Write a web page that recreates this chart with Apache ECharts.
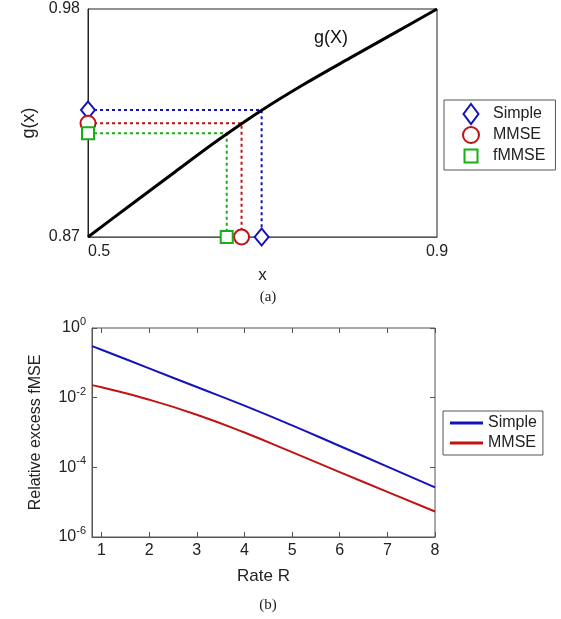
<!DOCTYPE html>
<html>
<head>
<meta charset="utf-8">
<script src="https://cdn.jsdelivr.net/npm/echarts@6/dist/echarts.min.js"></script>
<style>
  html, body { margin: 0; padding: 0; background: #fff; }
  #chart { width: 561px; height: 619px; }
</style>
</head>
<body>
<div id="chart"></div>
<script>
// (a) curve g(x) and the three estimates
const gX = [0.5, 0.55, 0.6, 0.65, 0.7, 0.75, 0.8, 0.85, 0.9];
const gY = [0.87, 0.8858, 0.9015, 0.917, 0.9314, 0.9443, 0.9563, 0.9681, 0.98];
const methods = ["Simple", "MMSE", "fMMSE"];
const estX = [0.699, 0.676, 0.659];
const estG = [0.9313, 0.9249, 0.92];
const xTicksA = [0.5, 0.9];
const yTicksA = [0.87, 0.98];

// (b) relative excess fMSE vs rate
const rate = [0.8, 1, 2, 3, 4, 5, 6, 7, 8];
const simpleExcess = [0.303, 0.238, 0.0693, 0.0202, 0.00589, 0.0016, 0.00041, 0.000105, 0.0000265];
const mmseExcess = [0.0229, 0.0199, 0.00876, 0.00324, 0.001, 0.000272, 0.000073, 0.0000197, 0.0000054];
const rateTicks = [1, 2, 3, 4, 5, 6, 7, 8];

(function () {
  const chart = echarts.init(document.getElementById("chart"));
  const colors = ["#1313bb", "#c21212", "#14b014"];
  const symbols = ["diamond", "circle", "rect"];
  const sizes = [[14, 17], 15, 12];
  // legend icons, padded to the same 20x20 box so they keep their own size
  const legendIcons = [
    "path://M0,0M20,20M10,0L17.5,10L10,20L2.5,10Z",
    "path://M0,0M20,20M2,10A8,8,0,1,1,18,10A8,8,0,1,1,2,10Z",
    "path://M0,0M20,20M3.5,3.5L16.5,3.5L16.5,16.5L3.5,16.5Z"
  ];
  const font = "Liberation Sans";

  const series = [];
  methods.forEach((m, i) => {
    series.push({
      name: m + " guide", type: "line", xAxisIndex: 0, yAxisIndex: 0,
      data: [[gX[0], estG[i]], [estX[i], estG[i]], [estX[i], gY[0]]],
      symbol: "none", clip: false, silent: true, z: 2,
      lineStyle: { color: colors[i], width: 2, type: [3, 3] }
    });
  });
  series.push({
    name: "g(X)", type: "line", xAxisIndex: 0, yAxisIndex: 0,
    data: gX.map((x, i) => [x, gY[i]]), smooth: 0.3, symbol: "none", z: 3,
    lineStyle: { color: "#000", width: 3 }
  });
  methods.forEach((m, i) => {
    series.push({
      name: m + " (a)", type: "scatter", xAxisIndex: 0, yAxisIndex: 0,
      data: [[gX[0], estG[i]], [estX[i], gY[0]]],
      symbol: symbols[i], symbolSize: sizes[i], clip: false, z: 4,
      itemStyle: { color: "#fff", borderColor: colors[i], borderWidth: 2, opacity: 1 }
    });
  });
  series.push({
    name: "Simple", type: "line", xAxisIndex: 1, yAxisIndex: 1,
    data: rate.map((r, i) => [r, simpleExcess[i]]), smooth: true, symbol: "none",
    itemStyle: { color: colors[0] }, lineStyle: { color: colors[0], width: 2 }
  });
  series.push({
    name: "MMSE", type: "line", xAxisIndex: 1, yAxisIndex: 1,
    data: rate.map((r, i) => [r, mmseExcess[i]]), smooth: true, symbol: "none",
    itemStyle: { color: colors[1] }, lineStyle: { color: colors[1], width: 2 }
  });

  const labelStyle = { fontFamily: font, fontSize: 16, color: "#222" };
  const nameStyle = { fontFamily: font, fontSize: 17, color: "#222" };
  const supFmt = v => "{b|10}{s|" + Math.round(Math.log10(v)) + "}";

  const option = {
    animation: false,
    grid: [
      { left: 88, top: 9, width: 349, height: 228, show: true, borderColor: "#222", borderWidth: 1 },
      { left: 92, top: 328, width: 343, height: 209, show: true, borderColor: "#555", borderWidth: 1 }
    ],
    xAxis: [
      {
        gridIndex: 0, type: "value", min: 0.5, max: 0.9,
        axisLine: { lineStyle: { color: "#555" } }, axisTick: { show: false }, splitLine: { show: false },
        axisLabel: Object.assign({ customValues: xTicksA, margin: 7, alignMinLabel: "left" }, labelStyle),
        name: "x", nameLocation: "middle", nameGap: 30, nameTextStyle: nameStyle
      },
      {
        gridIndex: 1, type: "value", min: 0.8, max: 8,
        axisLine: { lineStyle: { color: "#555" } }, splitLine: { show: false },
        axisTick: { inside: true, length: 5, customValues: rateTicks, lineStyle: { color: "#555" } },
        axisLabel: Object.assign({ customValues: rateTicks, margin: 6 }, labelStyle),
        name: "Rate R", nameLocation: "middle", nameGap: 31, nameTextStyle: nameStyle
      },
      {
        gridIndex: 1, type: "value", min: 0.8, max: 8, position: "top",
        axisLine: { show: false }, axisLabel: { show: false }, splitLine: { show: false },
        axisTick: { inside: true, length: 5, customValues: rateTicks, lineStyle: { color: "#555" } }
      }
    ],
    yAxis: [
      {
        gridIndex: 0, type: "value", min: 0.87, max: 0.98,
        axisLine: { show: true, lineStyle: { color: "#222" } }, axisTick: { show: false }, splitLine: { show: false },
        axisLabel: Object.assign({ customValues: yTicksA, margin: 8 }, labelStyle),
        name: "g(x)", nameLocation: "middle", nameGap: 50,
        nameTextStyle: Object.assign({}, nameStyle, { fontSize: 18 })
      },
      {
        gridIndex: 1, type: "log", logBase: 10, min: 1e-6, max: 1, interval: 2,
        axisLine: { show: true, lineStyle: { color: "#555" } }, splitLine: { show: false },
        axisTick: { inside: true, length: 5, lineStyle: { color: "#555" } },
        axisLabel: {
          margin: 6, formatter: supFmt,
          rich: {
            b: { fontFamily: font, fontSize: 16, color: "#222" },
            s: { fontFamily: font, fontSize: 11, color: "#222", padding: [0, 0, 12, 0] }
          }
        },
        name: "Relative excess fMSE", nameLocation: "middle", nameGap: 48,
        nameTextStyle: Object.assign({}, nameStyle, { fontSize: 16 })
      },
      {
        gridIndex: 1, type: "log", logBase: 10, min: 1e-6, max: 1, interval: 2, position: "right",
        axisLine: { show: false }, axisLabel: { show: false }, splitLine: { show: false },
        axisTick: { inside: true, length: 5, lineStyle: { color: "#555" } }
      }
    ],
    legend: [
      {
        data: methods.map((m, i) => ({ name: m + " (a)", icon: legendIcons[i] })),
        formatter: n => n.replace(" (a)", ""),
        orient: "vertical", left: 444, top: 100,
        itemWidth: 20, itemHeight: 20, itemGap: -1,
        padding: [3, 10, 3, 16],
        borderColor: "#555", borderWidth: 1,
        itemStyle: { borderWidth: 2 },
        textStyle: { fontFamily: font, fontSize: 16, color: "#222", lineHeight: 18, padding: [0, 0, 0, 7] }
      },
      {
        data: [{ name: "Simple", icon: "rect" }, { name: "MMSE", icon: "rect" }],
        orient: "vertical", left: 443, top: 411,
        itemWidth: 33, itemHeight: 3, itemGap: 2,
        padding: [3, 6, 3, 7],
        borderColor: "#555", borderWidth: 1,
        textStyle: { fontFamily: font, fontSize: 16, color: "#222", lineHeight: 18 }
      }
    ],
    graphic: [
      { type: "text", x: 331, y: 38, style: { text: "g(X)", font: "18px 'Liberation Sans'", fill: "#111", align: "center", verticalAlign: "middle", textAlign: "center", textVerticalAlign: "middle" } },
      { type: "text", x: 268, y: 297, style: { text: "(a)", font: "15px 'Liberation Serif'", fill: "#222", align: "center", verticalAlign: "middle", textAlign: "center", textVerticalAlign: "middle" } },
      { type: "text", x: 268, y: 605, style: { text: "(b)", font: "15px 'Liberation Serif'", fill: "#222", align: "center", verticalAlign: "middle", textAlign: "center", textVerticalAlign: "middle" } }
    ],
    series: series
  };

  chart.setOption(option);
  window.addEventListener("resize", () => chart.resize());
})();
</script>
</body>
</html>
